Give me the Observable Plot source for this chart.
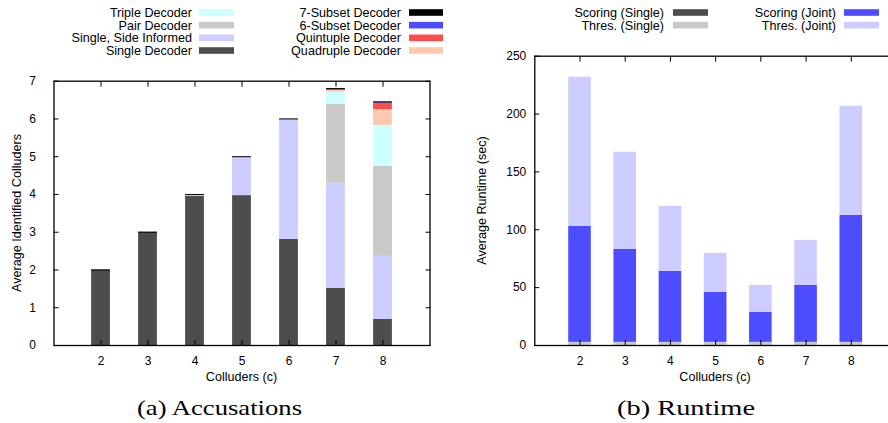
<!DOCTYPE html>
<html><head><meta charset="utf-8">
<script src="https://cdn.jsdelivr.net/npm/d3@7"></script>
<script src="https://cdn.jsdelivr.net/npm/@observablehq/plot@0.6"></script>
<style>
html,body{margin:0;padding:0;background:#fff;}
#wrap{position:relative;width:888px;height:423px;overflow:hidden;font-family:"Liberation Sans",Arial,sans-serif;}
#wrap > svg{position:absolute;top:0;}
</style></head><body><div id="wrap"></div>
<script>
// ---------- Data: (a) Accusations ----------
const colluders = [2, 3, 4, 5, 6, 7, 8];
const accSeries = ["Single Decoder", "Single, Side Informed", "Pair Decoder", "Triple Decoder",
  "Quadruple Decoder", "Quintuple Decoder", "6-Subset Decoder", "7-Subset Decoder"];
const accColors = ["#4d4d4d", "#ccccff", "#c9c9c9", "#ccffff", "#ffc9b0", "#ff4d4d", "#4d4dff", "#000000"];
const singleDec    = [2.00, 3.00, 3.95, 3.97, 2.81, 1.51, 0.69];
const sideInformed = [0, 0, 0, 1.03, 3.17, 2.79, 1.67];
const pairDec      = [0, 0, 0.05, 0, 0.02, 2.09, 2.38];
const tripleDec    = [0, 0, 0, 0, 0, 0.32, 1.09];
const quadrupleDec = [0, 0, 0, 0, 0, 0.06, 0.42];
const quintupleDec = [0, 0, 0, 0, 0, 0, 0.17];
const subset6Dec   = [0, 0, 0, 0, 0, 0, 0.03];
const subset7Dec   = [0, 0, 0, 0, 0, 0.03, 0];
const accTicksY = [0, 1, 2, 3, 4, 5, 6, 7];

// ---------- Data: (b) Runtime ----------
const rtSeries = ["Scoring (Single)", "Thres. (Single)", "Scoring (Joint)", "Thres. (Joint)"];
const rtColors = ["#4d4d4d", "#c9c9c9", "#4d4dff", "#ccccff"];
const scoringSingle = [0.2, 0.2, 0.2, 0.2, 0.2, 0.2, 0.2];
const thresSingle   = [2.5, 2.5, 2.5, 2.5, 2.5, 2.5, 2.5];
const scoringJoint  = [100.3, 80.3, 61.3, 43.3, 25.8, 49.3, 109.8];
const thresJoint    = [128.8, 84.0, 56.2, 33.6, 23.4, 38.8, 94.2];
const rtTicksY = [0, 50, 100, 150, 200, 250];

// ---------- Tidy tables ----------
const accCols = [singleDec, sideInformed, pairDec, tripleDec, quadrupleDec, quintupleDec, subset6Dec, subset7Dec];
const accData = [];
colluders.forEach((c, i) => accCols.forEach((col, s) => accData.push({c, series: accSeries[s], value: col[i]})));
const accTotals = colluders.map((c, i) => ({c, total: d3.sum(accCols, col => col[i])}));

const rtCols = [scoringSingle, thresSingle, scoringJoint, thresJoint];
const rtData = [];
colluders.forEach((c, i) => rtCols.forEach((col, s) => rtData.push({c, series: rtSeries[s], value: col[i]})));

const FONT = '"Liberation Sans", Arial, sans-serif';
const baseStyle = {fontFamily: FONT, fontSize: "12px", color: "#000", background: "transparent"};

const accHalf = 0.2;
const left = Plot.plot({
  width: 440, height: 423,
  marginTop: 80.7, marginBottom: 78, marginLeft: 53.5, marginRight: 10.5,
  style: baseStyle,
  x: {domain: [1, 9]},
  y: {domain: [0, 7]},
  color: {domain: accSeries, range: accColors},
  marks: [
    Plot.rectY(accData, Plot.stackY({x: "c", x1: d => d.c - accHalf, x2: d => d.c + accHalf,
      y: "value", fill: "series", order: accSeries})),
    Plot.ruleY(accTotals, {y: "total", x1: d => d.c - accHalf, x2: d => d.c + accHalf, stroke: "#000", strokeWidth: 1}),
    Plot.axisX(colluders, {anchor: "bottom", tickSize: -5, tickPadding: 16, label: null, tickFormat: d => String(d)}),
    Plot.axisX(colluders, {anchor: "top", tickSize: -5, tickFormat: () => "", label: null}),
    Plot.axisY(accTicksY, {anchor: "left", tickSize: -5, tickPadding: 23, label: null, tickFormat: d => String(d)}),
    Plot.axisY(accTicksY, {anchor: "right", tickSize: -5, tickFormat: () => "", label: null}),
    Plot.frame({stroke: "#000", strokeWidth: 1.3})
  ]
});
left.style.left = "0px";

const rtHalf = 0.25;
const right = Plot.plot({
  width: 456, height: 423,
  marginTop: 55.7, marginBottom: 78, marginLeft: 94.3, marginRight: 0,
  style: baseStyle,
  x: {domain: [1, 9]},
  y: {domain: [0, 250]},
  color: {domain: rtSeries, range: rtColors},
  marks: [
    Plot.rectY(rtData, Plot.stackY({x: "c", x1: d => d.c - rtHalf, x2: d => d.c + rtHalf,
      y: "value", fill: "series", order: rtSeries})),
    Plot.axisX(colluders, {anchor: "bottom", tickSize: -5, tickPadding: 16, label: null, tickFormat: d => String(d)}),
    Plot.axisX(colluders, {anchor: "top", tickSize: -5, tickFormat: () => "", label: null}),
    Plot.axisY(rtTicksY, {anchor: "left", tickSize: -5, tickPadding: 13.5, label: null, tickFormat: d => String(d)}),
    Plot.frame({stroke: "#000", strokeWidth: 1.3})
  ]
});
right.style.left = "440px";

const wrap = document.getElementById("wrap");
wrap.appendChild(left);
wrap.appendChild(right);

// ---------- Overlay: legends, axis titles, captions ----------
const ov = d3.select(wrap).append("svg")
  .attr("width", 888).attr("height", 423)
  .style("left", "0px").style("pointer-events", "none")
  .attr("font-family", FONT).attr("font-size", 12.6);

const legendCols = [
  {textEnd: 192, sw0: 199, sw1: 234, items: ["Triple Decoder", "Pair Decoder", "Single, Side Informed", "Single Decoder"], dom: accSeries, col: accColors},
  {textEnd: 401, sw0: 409, sw1: 443, items: ["7-Subset Decoder", "6-Subset Decoder", "Quintuple Decoder", "Quadruple Decoder"], dom: accSeries, col: accColors},
  {textEnd: 664, sw0: 673, sw1: 708, items: ["Scoring (Single)", "Thres. (Single)"], dom: rtSeries, col: rtColors},
  {textEnd: 836, sw0: 844, sw1: 879, items: ["Scoring (Joint)", "Thres. (Joint)"], dom: rtSeries, col: rtColors}
];
legendCols.forEach(lc => {
  lc.items.forEach((name, i) => {
    const cy = 12.5 + i * 12.67;
    ov.append("text").attr("x", lc.textEnd).attr("y", cy + 4.6).attr("text-anchor", "end").text(name);
    ov.append("rect").attr("x", lc.sw0).attr("y", cy - 3.3).attr("width", lc.sw1 - lc.sw0).attr("height", 6.6)
      .attr("fill", lc.col[lc.dom.indexOf(name)]);
  });
});

ov.append("text").attr("x", 241.5).attr("y", 381).attr("text-anchor", "middle").text("Colluders (c)");
ov.append("text").attr("x", 715).attr("y", 381).attr("text-anchor", "middle").text("Colluders (c)");
ov.append("text").attr("transform", "translate(21,213) rotate(-90)").attr("text-anchor", "middle").text("Average Identified Colluders");
ov.append("text").attr("transform", "translate(486,200.5) rotate(-90)").attr("text-anchor", "middle").text("Average Runtime (sec)");

const capFont = '"Liberation Serif", "Times New Roman", serif';
ov.append("text").attr("x", 137).attr("y", 414.5).attr("font-family", capFont)
  .attr("font-size", 22).attr("textLength", 165).attr("lengthAdjust", "spacingAndGlyphs").text("(a) Accusations");
ov.append("text").attr("x", 617).attr("y", 414.5).attr("font-family", capFont)
  .attr("font-size", 22).attr("textLength", 138).attr("lengthAdjust", "spacingAndGlyphs").text("(b) Runtime");
</script>
</body></html>
